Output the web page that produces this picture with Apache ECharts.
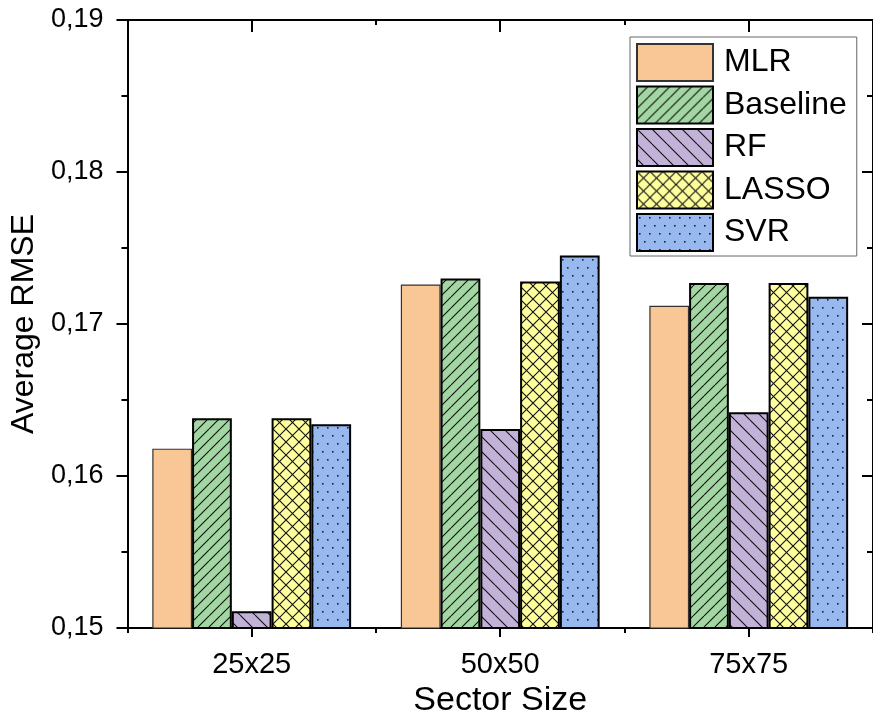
<!DOCTYPE html>
<html><head><meta charset="utf-8">
<script src="https://cdn.jsdelivr.net/npm/echarts@6/dist/echarts.min.js"></script>
<style>html,body{margin:0;padding:0;background:#fff}#c{width:873px;height:723px}</style>
</head><body><div id="c"></div>
<script>
const categories = ['25x25', '50x50', '75x75'];
const seriesNames = ['MLR', 'Baseline', 'RF', 'LASSO', 'SVR'];
const mlr = [0.1618, 0.1726, 0.1712];
const baseline = [0.1638, 0.1730, 0.1727];
const rf = [0.1511, 0.1631, 0.1642];
const lasso = [0.1638, 0.1728, 0.1727];
const svr = [0.1634, 0.1745, 0.1718];
const yTicks = [0.15, 0.16, 0.17, 0.18, 0.19];

const FONT = "'Liberation Sans', Arial, sans-serif";

function tile(w, h, bg, draw) {
  const c = document.createElement('canvas');
  c.width = w; c.height = h;
  const g = c.getContext('2d');
  g.fillStyle = bg; g.fillRect(0, 0, w, h);
  g.strokeStyle = '#111'; g.fillStyle = '#222'; g.lineWidth = 1.1;
  draw(g, w, h);
  return { image: c, repeat: 'repeat' };
}
function diag(g, w, h, dir) {
  g.beginPath();
  for (let k = -1; k <= 1; k++) {
    if (dir > 0) { g.moveTo(k * w, h); g.lineTo(k * w + w, 0); }
    else { g.moveTo(k * w, 0); g.lineTo(k * w + w, h); }
  }
  g.stroke();
}
const fills = [
  '#F9C796',
  tile(11, 11, '#A2D6A2', (g, w, h) => diag(g, w, h, 1)),
  tile(15, 15, '#C2B2D8', (g, w, h) => diag(g, w, h, -1)),
  tile(13, 13, '#FFFF9E', (g, w, h) => { diag(g, w, h, 1); diag(g, w, h, -1); }),
  tile(10, 16, '#97B9F0', (g) => { g.fillRect(2, 3, 1.6, 1.6); g.fillRect(7, 11, 1.6, 1.6); })
];
const dataSets = [mlr, baseline, rf, lasso, svr];

const series = seriesNames.map((n, i) => ({
  name: n, type: 'bar', xAxisIndex: 0, yAxisIndex: 0,
  data: dataSets[i],
  barGap: '0%', barCategoryGap: '20%',
  itemStyle: { color: fills[i], borderColor: i === 0 ? '#333' : '#000', borderWidth: i === 0 ? 1.2 : 2 }
}));

const axLine = { show: true, lineStyle: { color: '#000', width: 2 } };
const chart = echarts.init(document.getElementById('c'), null, { renderer: 'canvas' });
chart.setOption({
  animation: false,
  backgroundColor: '#fff',
  grid: { left: 127, right: -8, top: 20, bottom: 95 },
  legend: {
    orient: 'vertical', left: 630, top: 37, icon: 'rect',
    padding: [6, 10, 4, 6], itemGap: 3.5, itemWidth: 76, itemHeight: 37,
    backgroundColor: '#fff', borderColor: '#666', borderWidth: 1,
    textStyle: { fontFamily: FONT, fontSize: 32, color: '#000', padding: [0, 0, 0, 6] },
    data: seriesNames
  },
  xAxis: [
    { type: 'category', data: categories, position: 'bottom', axisLine: axLine,
      axisTick: { show: true, alignWithLabel: true, inside: false, length: 9, lineStyle: { color: '#000', width: 2 } },
      axisLabel: { fontFamily: FONT, fontSize: 29, color: '#000', margin: 22 },
      name: 'Sector Size', nameLocation: 'middle', nameGap: 50,
      nameTextStyle: { fontFamily: FONT, fontSize: 34, color: '#000' } },
    { type: 'category', data: categories, position: 'bottom', axisLine: { show: false },
      axisTick: { show: true, alignWithLabel: false, length: 5, lineStyle: { color: '#000', width: 2 } },
      axisLabel: { show: false } },
    { type: 'category', data: categories, position: 'top', axisLine: axLine,
      axisTick: { show: true, alignWithLabel: true, inside: true, length: 12, lineStyle: { color: '#000', width: 2 } },
      axisLabel: { show: false } },
    { type: 'category', data: categories, position: 'top', axisLine: { show: false },
      axisTick: { show: true, alignWithLabel: false, inside: true, length: 5, lineStyle: { color: '#000', width: 2 } },
      axisLabel: { show: false } }
  ],
  yAxis: [
    { type: 'value', min: yTicks[0], max: yTicks[yTicks.length - 1], interval: 0.01, position: 'left',
      axisLine: axLine, splitLine: { show: false },
      axisTick: { show: true, inside: false, length: 11, lineStyle: { color: '#000', width: 2 } },
      minorTick: { show: true, splitNumber: 2, length: 6, lineStyle: { color: '#000', width: 2 } },
      axisLabel: { fontFamily: FONT, fontSize: 27, color: '#000', margin: 24,
        formatter: v => v.toFixed(2).replace('.', ',') },
      name: 'Average RMSE', nameLocation: 'middle', nameGap: 86, nameRotate: 90,
      nameTextStyle: { fontFamily: FONT, fontSize: 32, color: '#000' } },
    { type: 'value', min: yTicks[0], max: yTicks[yTicks.length - 1], interval: 0.01, position: 'right',
      axisLine: axLine, splitLine: { show: false },
      axisTick: { show: true, inside: true, length: 11, lineStyle: { color: '#000', width: 2 } },
      minorTick: { show: true, splitNumber: 2, length: 6, lineStyle: { color: '#000', width: 2 } },
      axisLabel: { show: false } }
  ],
  series: series
});
</script></body></html>
